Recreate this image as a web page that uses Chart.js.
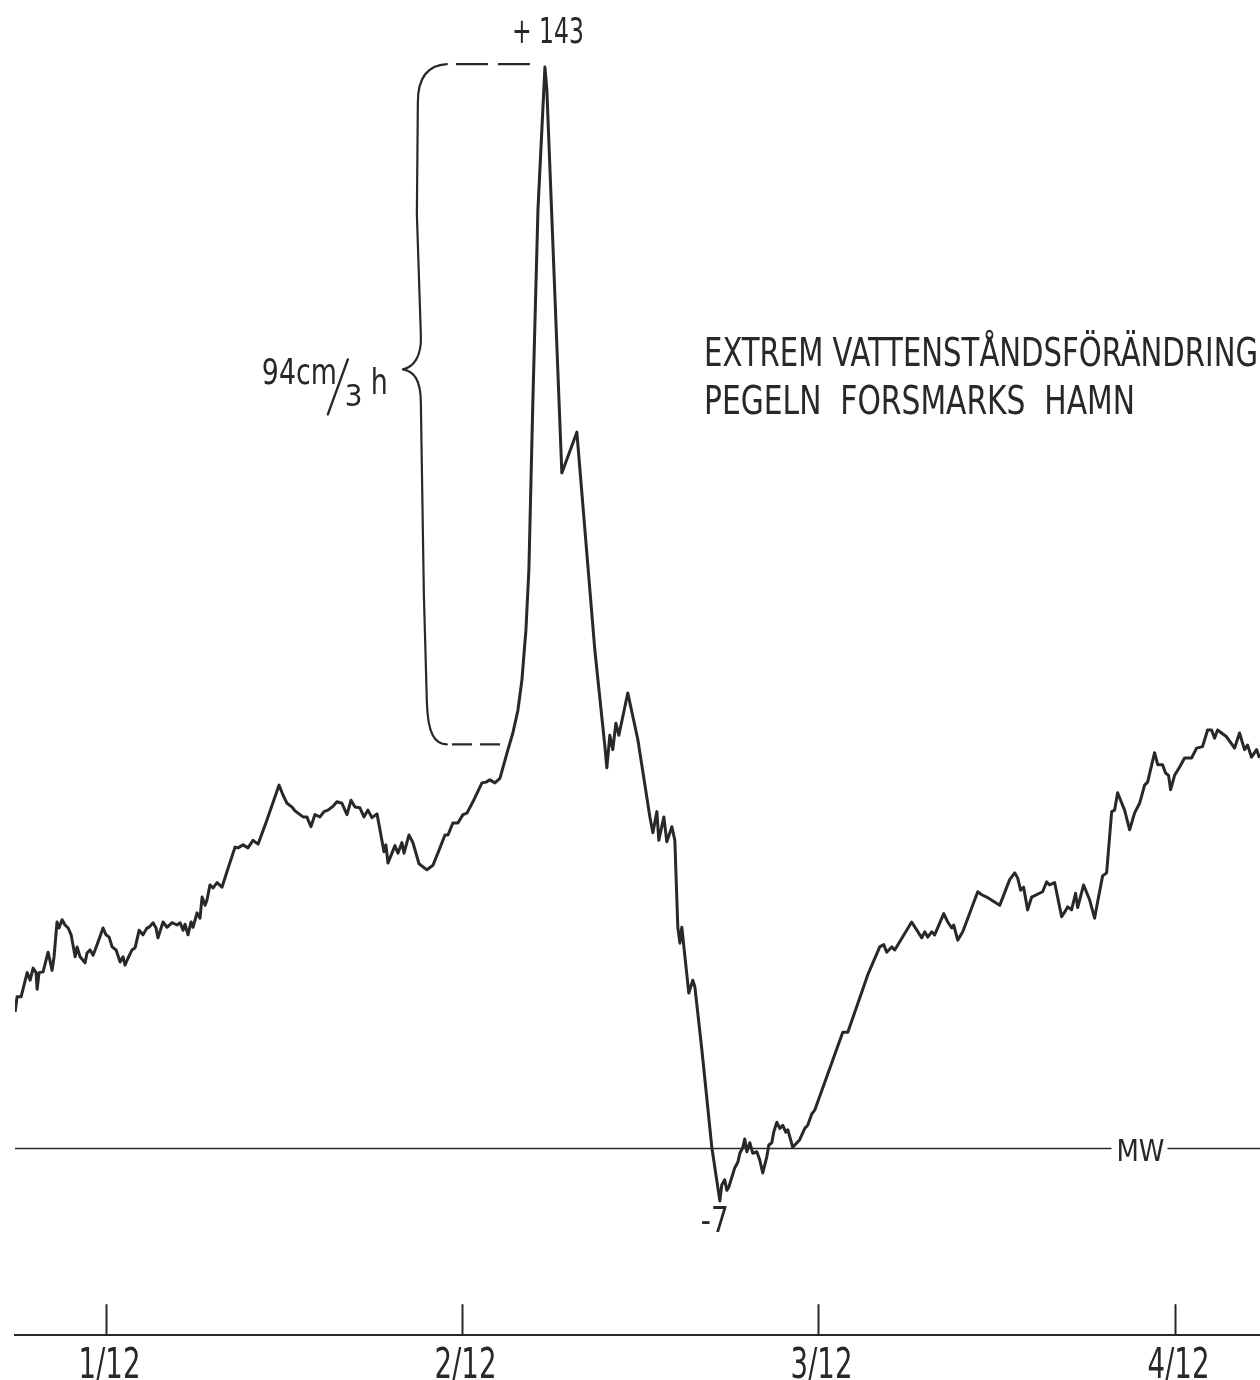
<!DOCTYPE html>
<html>
<head>
<meta charset="utf-8">
<script src="https://cdn.jsdelivr.net/npm/chart.js@4.4.1/dist/chart.umd.min.js"></script>
<style>
  html, body { margin: 0; padding: 0; background: #fff; }
  canvas { display: block; }
</style>
</head>
<body>
<canvas id="c" width="1260" height="1380"></canvas>
<script>
// Water level at the Forsmark harbour gauge, hours after the 1/12 mark, cm relative to MW
const hours = [
  -6.09, -5.96, -5.69, -5.28, -5.08, -4.88, -4.68, -4.61, -4.48, -4.21,
  -3.87, -3.60, -3.47, -3.27, -3.13, -2.93, -2.73, -2.52, -2.32, -2.05,
  -1.92, -1.72, -1.38, -1.25, -1.04, -0.84, -0.57, -0.17, 0.03, 0.24,
  0.44, 0.71, 0.98, 1.18, 1.31, 1.51, 1.78, 1.99, 2.26, 2.52,
  2.79, 2.93, 3.20, 3.40, 3.53, 3.87, 4.14, 4.48, 4.81, 5.02,
  5.22, 5.35, 5.55, 5.76, 5.89, 6.16, 6.36, 6.50, 6.70, 6.83,
  7.03, 7.24, 7.51, 7.84,
  8.25, 8.72, 8.92, 9.26, 9.59, 9.93, 10.27, 10.87, 11.68, 11.95,
  12.22, 12.56, 12.76, 12.96, 13.30, 13.56, 13.83, 14.10, 14.44, 14.71,
  14.98, 15.32, 15.58, 15.92, 16.26, 16.53, 16.80, 17.13, 17.40, 17.67,
  17.94, 18.28, 18.48, 18.75, 18.88, 19.02, 19.29, 19.49, 19.69, 19.96,
  20.10, 20.43, 20.70, 21.11, 21.64, 22.05, 22.38, 22.86, 23.06, 23.39,
  23.73, 24.07, 24.34, 24.74, 25.35, 25.62, 25.88, 26.22, 26.56, 27.10,
  27.43, 27.77, 28.04, 28.31, 28.51, 28.78, 29.12, 29.59, 29.72, 30.73,
  31.74, 32.95, 33.63, 33.76, 33.96, 34.16, 34.37, 34.57, 35.17, 35.85,
  36.66, 36.86, 37.13, 37.26, 37.60, 37.80, 38.14, 38.34, 38.54, 38.68,
  38.81, 39.28, 39.55, 39.69, 40.16, 40.83, 41.37, 41.50, 41.70, 41.84,
  41.97, 42.38, 42.58, 42.72, 42.92, 43.05, 43.19, 43.39, 43.59, 43.86,
  44.06, 44.26, 44.53, 44.67, 44.87, 45.00, 45.21, 45.41, 45.61, 45.81,
  45.95, 46.28, 46.75, 47.09, 47.29, 47.56, 47.76,
  49.65, 49.99, 51.33, 52.14, 52.41, 52.61, 52.95, 53.15, 54.29,
  54.97, 55.17, 55.37, 55.64, 55.84, 56.45, 56.72, 56.99, 57.12, 57.39,
  57.73, 58.74, 59.01, 59.34, 60.22, 60.89, 61.23, 61.43, 61.63, 61.83,
  62.10, 62.37, 63.11, 63.38, 63.58, 63.92, 64.39, 64.59, 64.80, 65.06,
  65.33, 65.47, 65.87, 66.28, 66.61, 66.81, 67.15, 67.42, 67.76, 67.96,
  68.16, 68.63, 68.97, 69.30, 69.64, 69.98, 70.18, 70.65, 70.86, 71.19,
  71.39, 71.59, 71.73, 72.00, 72.34, 72.67, 73.14, 73.48, 73.88, 74.22,
  74.49, 74.69, 74.89, 75.50, 76.04, 76.37, 76.71, 76.91, 77.18, 77.52,
  77.72
];
const level = [
  18.0, 20.0, 20.0, 23.2, 22.2, 23.8, 23.2, 21.0, 23.2, 23.3,
  25.9, 23.5, 25.3, 29.9, 29.1, 30.2, 29.5, 29.1, 28.2, 25.3,
  26.6, 25.3, 24.5, 25.8, 26.2, 25.5, 26.9, 29.1, 28.2, 27.9,
  26.6, 26.2, 24.6, 25.3, 24.2, 25.1, 26.2, 26.5, 28.8, 28.2,
  29.1, 29.2, 29.8, 29.1, 27.8, 29.9, 29.2, 29.8, 29.5, 29.8,
  28.8, 29.6, 28.2, 29.9, 29.2, 31.1, 30.4, 33.2, 32.1, 32.8,
  34.8, 34.4, 35.1, 34.5,
  37.0, 39.8, 39.7, 40.1, 39.7, 40.7, 40.2, 43.4, 48.0, 46.7,
  45.6, 45.1, 44.6, 44.3, 43.8, 43.8, 42.5, 44.1, 43.8, 44.5,
  44.7, 45.2, 45.8, 45.6, 44.1, 46.0, 45.1, 45.0, 43.8, 44.7,
  43.7, 44.2, 42.1, 39.2, 40.1, 37.7, 39.0, 40.0, 39.0, 40.4,
  39.0, 41.4, 40.4, 37.6, 36.8, 37.4, 39.0, 41.4, 41.4, 43.0,
  43.0, 44.1, 44.3, 45.8, 48.3, 48.4, 48.7, 48.3, 48.9, 52.7,
  54.9, 57.9, 61.9, 68.5, 76.5, 99.0, 124.1, 143.0, 140.0, 89.3,
  94.7, 65.9, 53.1, 50.3, 54.6, 52.7, 56.2, 54.6, 60.2, 54.0,
  43.8, 41.7, 44.5, 40.7, 43.8, 40.5, 42.5, 40.7, 29.2, 27.1,
  29.2, 20.5, 22.2, 21.3, 13.0, 0.1, -7.0, -4.9, -4.2, -5.6,
  -5.2, -2.6, -1.9, -0.7, 0.1, 1.2, -0.5, 0.7, -0.7, -0.5,
  -1.6, -3.3, -1.2, 0.4, 0.7, 2.1, 3.4, 2.6, 3.0, 2.1,
  2.4, 0.1, 1.1, 2.6, 3.0, 4.5, 5.0,
  15.3, 15.3, 22.9, 26.6, 26.9, 25.9, 26.6, 26.2, 29.9,
  27.8, 28.6, 27.9, 28.6, 28.2, 31.0, 29.9, 29.1, 29.5, 27.5,
  28.6, 33.9, 33.5, 33.2, 32.1, 35.5, 36.4, 35.7, 34.1, 34.5,
  31.5, 33.2, 33.9, 35.2, 34.8, 35.1, 30.6, 31.2, 31.9, 31.5,
  33.7, 31.8, 34.8, 32.8, 30.4, 32.5, 36.0, 36.4, 44.5, 44.7,
  47.0, 44.7, 42.1, 44.3, 45.6, 48.0, 48.4, 52.3, 50.7, 50.7,
  49.6, 49.3, 47.4, 49.3, 50.4, 51.6, 51.6, 52.9, 53.1, 55.3,
  55.3, 54.2, 55.3, 54.4, 52.9, 54.9, 52.7, 53.3, 51.7, 52.7,
  51.6
];

// Day marks on the time axis
const tickHours = [0, 24, 48, 72];
const tickLabels = ['1/12', '2/12', '3/12', '4/12'];

// Texts
const titleLines = ['EXTREM VATTENSTÅNDSFÖRÄNDRING', 'PEGELN  FORSMARKS  HAMN'];
const meanLabel = 'MW';
const rateText = '94cm';
const rateUnit = ['3', 'h'];

// Rise bracket: time of the bracket, its lower end and the level of its point (cm)
const braceHour = 21.1;
const braceLow = 53.4;
const braceTip = 103;

const INK = '#282828';
const LETTER = "'DejaVu Sans Condensed', 'Liberation Sans Narrow', sans-serif";

const points = hours.map((h, i) => ({ x: h, y: level[i] }));
const maxLevel = Math.max(...level);
const minLevel = Math.min(...level);
const maxIdx = level.indexOf(maxLevel);
const minIdx = level.indexOf(minLevel);
const fmt = v => (v > 0 ? '+ ' : v < 0 ? '-' : '') + Math.abs(Math.round(v));

// narrow technical lettering: text squeezed into a given width
function letter(ctx, s, x, y, size, maxW, align) {
  ctx.font = size + 'px ' + LETTER;
  ctx.textAlign = align || 'left';
  ctx.textBaseline = 'alphabetic';
  ctx.fillStyle = INK;
  if (maxW) ctx.fillText(s, x, y, maxW); else ctx.fillText(s, x, y);
}

const drawing = {
  id: 'drawing',
  beforeDatasetsDraw(chart) {
    const { ctx, chartArea: a, scales: { x, y } } = chart;
    const y0 = Math.round(y.getPixelForValue(0)) + 0.5;
    const mx = x.getPixelForValue(69.7);
    ctx.save();
    ctx.strokeStyle = INK;
    ctx.lineWidth = 1.6;
    ctx.beginPath();
    ctx.moveTo(a.left, y0); ctx.lineTo(mx - 29, y0);
    ctx.moveTo(mx + 27, y0); ctx.lineTo(a.right, y0);
    ctx.stroke();
    letter(ctx, meanLabel, mx, y0 + 12, 31, 48, 'center');
    ctx.restore();
  },
  afterDraw(chart) {
    const { ctx, chartArea: a, scales: { x, y } } = chart;
    ctx.save();
    ctx.strokeStyle = INK;
    ctx.lineCap = 'round';

    // day ticks rising from the time axis, with their dates below
    ctx.lineWidth = 2;
    tickHours.forEach((h, i) => {
      const px = Math.round(x.getPixelForValue(h)) + 0.5;
      ctx.beginPath();
      ctx.moveTo(px, a.bottom);
      ctx.lineTo(px, a.bottom - 30);
      ctx.stroke();
      letter(ctx, tickLabels[i], px + 3, a.bottom + 43, 42, 62, 'center');
    });

    // bracket spanning the rise to the maximum
    const xp = x.getPixelForValue(hours[maxIdx]);
    const yp = y.getPixelForValue(maxLevel);
    const xb = x.getPixelForValue(braceHour);
    const yT = yp - 3;
    const yB = y.getPixelForValue(braceLow);
    const yM = y.getPixelForValue(braceTip);
    ctx.lineWidth = 2.2;
    ctx.lineJoin = 'round';
    ctx.beginPath();
    ctx.moveTo(xb + 28, yT);
    ctx.bezierCurveTo(xb + 9, yT + 1, xb - 1, yT + 14, xb - 1, yT + 38);
    ctx.lineTo(xb - 2, yT + 150);
    ctx.lineTo(xb + 2, yM - 34);
    ctx.bezierCurveTo(xb + 3, yM - 12, xb - 6, yM - 2, xb - 16, yM);
    ctx.bezierCurveTo(xb - 5, yM + 2, xb + 2, yM + 10, xb + 2, yM + 34);
    ctx.lineTo(xb + 5, yB - 150);
    ctx.lineTo(xb + 8, yB - 42);
    ctx.bezierCurveTo(xb + 9, yB - 10, xb + 16, yB, xb + 28, yB);
    ctx.stroke();

    ctx.lineCap = 'butt';
    ctx.setLineDash([32, 10]);
    ctx.beginPath();
    ctx.moveTo(xp - 15, yT);
    ctx.lineTo(xb + 28, yT);
    ctx.stroke();
    ctx.setLineDash([20, 8]);
    ctx.beginPath();
    ctx.moveTo(x.getPixelForValue(26.56), yB);
    ctx.lineTo(xb + 28, yB);
    ctx.stroke();
    ctx.setLineDash([]);

    // rate of rise
    const tx = xb - 16, ty = yM;
    letter(ctx, rateText, tx - 141, ty + 15, 35, 75);
    ctx.lineWidth = 2.4;
    ctx.lineCap = 'round';
    ctx.beginPath();
    ctx.moveTo(tx - 55, ty - 10);
    ctx.lineTo(tx - 75, ty + 45);
    ctx.stroke();
    letter(ctx, rateUnit[0], tx - 58, ty + 37, 31, 20);
    letter(ctx, rateUnit[1], tx - 32, ty + 25, 36, 17);

    // extreme values
    letter(ctx, fmt(maxLevel), xp - 33, yp - 24, 35, 72);
    const xm = x.getPixelForValue(hours[minIdx]);
    const ym = y.getPixelForValue(minLevel);
    letter(ctx, fmt(minLevel), xm - 19, ym + 31, 35, 28);

    // title
    letter(ctx, titleLines[0], 704, 366, 39, 554);
    letter(ctx, titleLines[1], 704, 414, 39, 431);
    ctx.restore();
  }
};

new Chart(document.getElementById('c'), {
  type: 'line',
  data: {
    datasets: [{
      data: points,
      borderColor: INK,
      borderWidth: 3,
      borderJoinStyle: 'round',
      pointRadius: 0,
      tension: 0,
      fill: false
    }]
  },
  options: {
    responsive: false,
    devicePixelRatio: 1,
    animation: false,
    layout: { padding: { left: 15, right: 0, top: 0, bottom: 0 } },
    plugins: { legend: { display: false }, tooltip: { enabled: false } },
    scales: {
      x: {
        type: 'linear',
        position: 'bottom',
        min: -6.1,
        max: 77.75,
        grid: { display: false, drawTicks: false },
        border: { display: true, color: INK, width: 2 },
        afterBuildTicks: s => { s.ticks = tickHours.map(v => ({ value: v })); },
        afterFit: s => { s.height = 45; },
        ticks: { display: false }
      },
      y: {
        display: false,
        min: -24.74,
        max: 151.87
      }
    }
  },
  plugins: [drawing]
});
</script>
</body>
</html>
